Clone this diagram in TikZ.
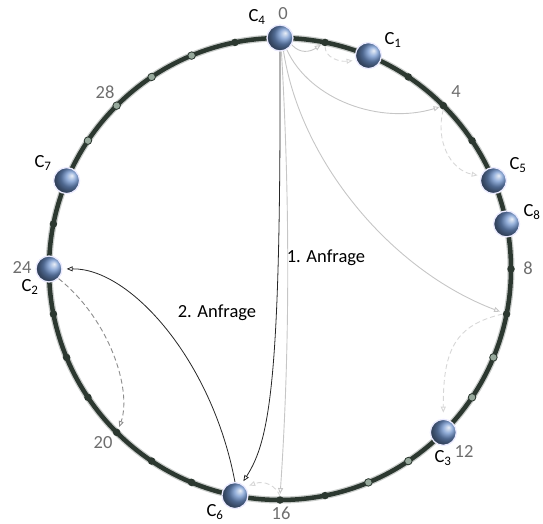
\documentclass[tikz,border=0pt]{standalone}
\usepackage{fontspec}
\setmainfont{Carlito}
\usetikzlibrary{arrows.meta}
\definecolor{ringgreen}{RGB}{44,56,48}
\definecolor{dotlight}{RGB}{150,168,155}
\definecolor{peerblue}{RGB}{112,148,205}
\definecolor{numgray}{RGB}{110,110,110}
\definecolor{fingergray}{RGB}{198,198,198}
\definecolor{succgray}{RGB}{215,215,215}
\definecolor{backgray}{RGB}{140,140,140}

\begin{document}
\begin{tikzpicture}[x=1pt, y=1pt,
    ring/.style={draw=ringgreen, line width=4.5pt},
    hop/.style={circle, inner sep=0pt, minimum size=7.5pt, fill=ringgreen},
    hoplight/.style={hop, fill=dotlight, draw=ringgreen, line width=0.8pt},
    peer/.style={circle, inner sep=0pt, minimum size=26pt, shading=ball,
      ball color=peerblue, shading angle=-90, draw=blue!8!white, line width=1.3pt},
    lbl/.style={font=\fontsize{18.5}{21}\selectfont, inner sep=0pt},
    num/.style={lbl, text=numgray},
    tip/.style={-{Triangle[open, length=6pt, width=5pt]}},
    finger/.style={tip, fingergray, line width=0.9pt},
    succ/.style={tip, succgray, line width=0.9pt, dash pattern=on 5pt off 3pt},
    query/.style={tip, black!85, line width=0.8pt},
    back/.style={tip, backgray, line width=0.9pt, dash pattern=on 5pt off 3pt}]
  \useasboundingbox (0,0) rectangle (543,-524);

  % ring with 32 positions
  \draw[white!75!ringgreen, line width=7pt] (280,-269) circle (231);
  \draw[ring] (280,-269) circle (231);
  \begin{scope}[shift={(280,-269)}]
    \foreach \k in {1,3,4,5,8,9,15,16,18,19,20,21,22,23,25,31}
      \node[hop] (d\k) at ({90-11.25*\k}:231) {};
    \foreach \k in {10,11,13,14,27,28,29,30}
      \node[hoplight] (d\k) at ({90-11.25*\k}:231) {};
    \node[peer] (c4) at (90:231) {};
    \node[peer] (c1) at (67.5:231) {};
    \node[peer] (c5) at (22.5:231) {};
    \node[peer] (c8) at (11.25:231) {};
    \node[peer] (c3) at (-45:231) {};
    \node[peer] (c6) at (-101.25:231) {};
    \node[peer] (c2) at (180:231) {};
    \node[peer] (c7) at (157.5:231) {};
  \end{scope}

  % labels
  \node[lbl] (l4) at (257,-17) {C\textsubscript{4}};
  \node[lbl] (l1) at (393,-40) {C\textsubscript{1}};
  \node[lbl] (l5) at (518,-165) {C\textsubscript{5}};
  \node[lbl] (l8) at (532,-212) {C\textsubscript{8}};
  \node[lbl] (l3) at (443,-458) {C\textsubscript{3}};
  \node[lbl] (l6) at (215,-512) {C\textsubscript{6}};
  \node[lbl] (l2) at (30,-287) {C\textsubscript{2}};
  \node[lbl] (l7) at (43,-163) {C\textsubscript{7}};
  \node[num] (n0) at (283,-14) {0};
  \node[num] (n4) at (456,-92) {4};
  \node[num] (n8) at (528,-268) {8};
  \node[num] (n12) at (464,-451) {12};
  \node[num] (n16) at (281,-513) {16};
  \node[num] (n20) at (103,-443) {20};
  \node[num] (n24) at (22,-267) {24};
  \node[num] (n28) at (105,-92) {28};

  % finger table of C4
  \draw[finger, shorten >=1pt] (c4.-30) .. controls (300,-54) and (310,-52) .. (d1.210);
  \draw[finger] (c4.-60) .. controls (310,-100) and (380,-125) .. (d4.200);
  \draw[finger, shorten >=3pt] (c4.-75) .. controls (300,-160) and (390,-270) .. (d9.160);
  \draw[finger, shorten >=2pt] (c4.-84) .. controls (290,-200) and (290,-350) .. (d16.north);
  \draw[succ, shorten >=3pt] (d1.south) .. controls (325,-58) and (340,-62) .. (c1.200);
  \draw[succ, shorten >=3pt] (d4.south) .. controls (435,-140) and (450,-170) .. (c5.160);
  \draw[succ, shorten >=6pt] (d9.west) .. controls (455,-325) and (443,-350) .. (c3.north);
  \draw[succ, shorten >=4pt] (d16.north) .. controls (276,-486) and (265,-480) .. (c6.40);

  % lookup
  \draw[query, shorten >=3pt] (c4.south) .. controls (281,-380) and (270,-440) .. (c6.60);
  \draw[query, shorten >=4pt] (c6.north) .. controls (212,-360) and (130,-268) .. (c2.east);
  \draw[back, shorten >=2pt] (c2.-45) .. controls (110,-320) and (132,-390) .. (d20.60);
  \node[lbl] (q1) at (326,-258) {1. Anfrage};
  \node[lbl] (q2) at (217,-313) {2. Anfrage};
\end{tikzpicture}
\end{document}
